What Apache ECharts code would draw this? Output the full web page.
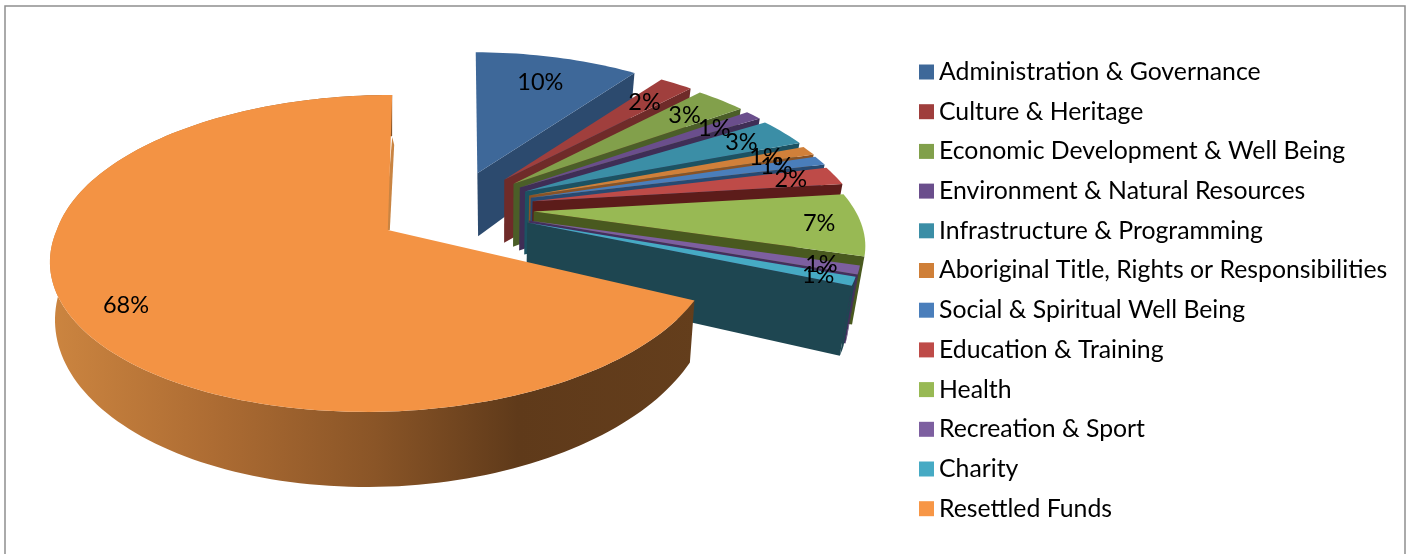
<!DOCTYPE html>
<html><head><meta charset="utf-8">
<style>html,body{margin:0;padding:0;background:#fff}#c{width:1416px;height:554px}</style>
<script src="https://cdn.jsdelivr.net/npm/echarts@6/dist/echarts.min.js"></script>
</head><body><div id="c"></div>
<script>
const categories = ['Administration & Governance','Culture & Heritage','Economic Development & Well Being','Environment & Natural Resources','Infrastructure & Programming','Aboriginal Title, Rights or Responsibilities','Social & Spiritual Well Being','Education & Training','Health','Recreation & Sport','Charity','Resettled Funds'];
const values = [10,2,3,1,3,1,1,2,7,1,1,68];
const topColors = ['#3e6899','#a03f3d','#82a04b','#6a4e8c','#3b8ea6','#d0803a','#4a7ebb','#be4b48','#98b954','#7d5fa0','#46aac4','#f39344'];
const sideColors = ['#2c4a6e','#6f2b29','#4b5e28','#3f2e56','#1c5262','#8a5325','#274a72','#5c1c1a','#49591f','#432f5e','#1e4651','#613c1b'];
const legendColors = ['#3e6899','#9f3e3c','#81a04b','#6a4e8c','#3b8ea6','#cf7f38','#4a7ebb','#be4b48','#98b954','#7d5fa0','#46aac4','#f79646'];

const total = values.reduce((a,b)=>a+b,0);
const cumulative = []; values.reduce((a,b,i)=>(cumulative[i]=a,a+b),0);
const cluster = {dx:82,dy:36.6,Rx:322,Ry:139,kx:0.24,ky:0.15,D:63,dp:1.6,sh:0,rs:1,q:0.034,x0:500,lean:-2};
const big = {dx:76,dy:41,Rx:331,Ry:155,kx:0.148,ky:0.148,D:54.5,dp:2,sh:18,rs:0.985,q:0.015,x0:388,lean:5};
const CX=452, CY=208, RAD=Math.PI/180;

function slice(i){
  const a0=cumulative[i]/total*360, a1=(cumulative[i]+values[i])/total*360, m=(a0+a1)/2*RAD;
  const g = i===values.length-1 ? big : cluster;
  const ax=CX+g.dx*Math.sin(m), ay=CY-g.dy*Math.cos(m);
  const pt=(deg,r)=>{
    const u=Math.sin(deg*RAD)*r, v=Math.cos(deg*RAD)*r, s=1/(1+g.kx*v), sy=1/(1+g.ky*v);
    const x=ax+g.Rx*u*s*(u>0?g.rs:1)+(v<0?g.sh*v*s:g.lean*v*s), y=ay-g.Ry*v*sy;
    return {x,y,s:sy};
  };
  const base=p=>[p.x-(p.x-g.x0)*g.q,p.y+g.D*Math.pow(p.s,g.dp)];
  return {a0,a1,mid:(a0+a1)/2,g,pt,base};
}
const orangeRim={type:'linear',x:50,y:0,x2:700,y2:0,global:true,colorStops:[
  {offset:0,color:'#cc8540'},{offset:0.25,color:'#ad6c33'},{offset:0.5,color:'#8a5527'},{offset:0.72,color:'#5f3a1a'},{offset:1,color:'#643e1c'}]};

function renderSlice(i){
  return function(){
    const S=slice(i), arc=[];
    for(let d=S.a0;d<S.a1;d+=1.5) arc.push(S.pt(d,1));
    arc.push(S.pt(S.a1,1));
    const apex=S.pt(0,0), isBig=i===values.length-1;
    const children=[];
    const tp=p=>[p.x,p.y];
    if(i>=9){
      children.push({type:'polygon',shape:{points:arc.map(tp).concat(arc.slice().reverse().map(S.base))},
        style:{fill:isBig?orangeRim:sideColors[i]}});
    }
    const endP=arc[arc.length-1];
    if(!isBig){
      children.push({type:'polygon',shape:{points:[tp(apex),tp(endP),S.base(endP),S.base(apex)]},style:{fill:sideColors[i]}});
    } else {
      children.push({type:'polygon',shape:{points:[[endP.x,endP.y+42],[endP.x+2,endP.y+50],[apex.x+2,apex.y],[apex.x-3,apex.y]]},style:{fill:'#c98442'}});
    }
    children.push({type:'polygon',shape:{points:[tp(apex)].concat(arc.map(tp))},style:{fill:topColors[i]}});
    const lab=S.pt(S.mid,isBig?0.845:0.73+0.0015*S.mid);
    children.push({type:'text',z2:100,style:{text:Math.round(values[i]/total*100)+'%',x:lab.x,y:lab.y,
      align:'center',verticalAlign:'middle',fill:'#000',font:'23.5px Lato'}});
    return {type:'group',children};
  };
}

const chart=echarts.init(document.getElementById('c'),null,{renderer:'canvas'});
chart.setOption({
  animation:false,
  backgroundColor:'#fff',
  graphic:[{type:'rect',shape:{x:5,y:6,width:1400,height:560},style:{fill:'none',stroke:'#8f8f8f',lineWidth:1.5},silent:true,z:-1}],
  legend:{orient:'vertical',left:919,top:59.5,padding:0,icon:'rect',itemWidth:15,itemHeight:15,itemGap:14.7,
    selectedMode:false,textStyle:{fontFamily:'Lato',fontSize:24.8,color:'#000'},data:categories},
  series:categories.map((name,i)=>({type:'custom',name,coordinateSystem:'none',silent:true,
    itemStyle:{color:legendColors[i]},data:[[values[i]]],renderItem:renderSlice(i)}))
});
</script></body></html>
